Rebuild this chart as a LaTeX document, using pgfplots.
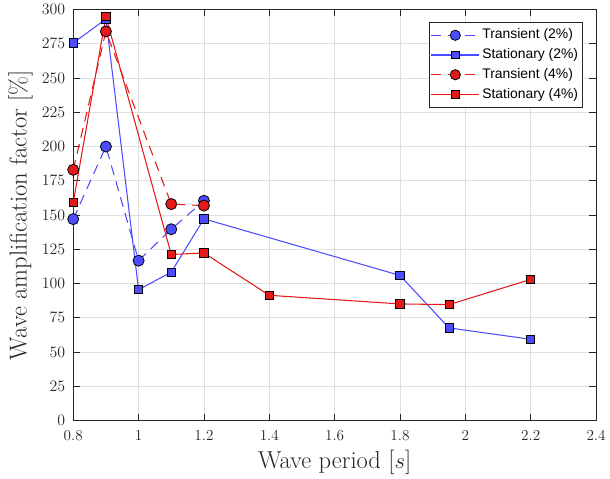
\documentclass[border=0pt]{standalone}
\usepackage{pgfplots}
\pgfplotsset{compat=1.18}
\usepackage{fontspec}
\newfontfamily\arial{Liberation Sans}
\definecolor{mblue}{rgb}{0.3,0.3,1}
\definecolor{mred}{rgb}{0.9,0.1,0.1}
\definecolor{axgray}{rgb}{0.15,0.15,0.15}
\begin{document}
\begin{tikzpicture}
\begin{axis}[
    name=ax,
    scale only axis,
    width=395pt, height=310.5pt,
    xmin=0.8, xmax=2.4, ymin=0, ymax=300,
    xtick={0.8,1,...,2.4},
    ytick={0,25,...,300},
    xticklabels={0.8,1,1.2,1.4,1.6,1.8,2,2.2,2.4},
    tick align=inside,
    major tick length=5pt,
    axis line style={axgray, line width=0.6pt},
    tick style={axgray, line width=0.5pt},
    grid=major,
    grid style={gray!25, line width=0.5pt},
    ticklabel style={font=\fontsize{11.5}{13}\selectfont, text=axgray},
    xticklabel style={yshift=-4pt},
    yticklabel style={xshift=-2.5pt},
    label style={font=\fontsize{18.5}{21}\selectfont, text=axgray},
    xlabel={Wave period [$s$]},
    ylabel={Wave amplification factor [\%]},
    legend style={at={(0.975,0.97)}, anchor=north east, draw=axgray,
        font=\arial\fontsize{10.5}{12.5}\selectfont, inner xsep=1.5pt, inner ysep=2.5pt,
        row sep=0pt, cells={anchor=west},
        nodes={inner xsep=2pt, inner ysep=2.2pt, text height=8pt, text depth=2.5pt}},
    legend image code/.code={\draw[mark repeat=2,mark phase=2,every mark/.append style={scale=0.92}] plot coordinates {(0pt,0pt)(18pt,0pt)(36pt,0pt)};},
]
\addplot[mblue, line width=0.8pt, dash pattern=on 7.5pt off 5pt,
    mark=*, mark size=4.2pt, mark options={solid, fill=mblue, draw=black, line width=0.6pt}]
    coordinates {(0.8,147) (0.9,200) (1.0,116.7) (1.1,139.6) (1.2,160.4)};
\addlegendentry{Transient (2\%)}
\addplot[mblue, line width=0.8pt,
    mark=square*, mark size=3.1pt, mark options={solid, fill=mblue, draw=black, line width=0.6pt}]
    coordinates {(0.8,275.6) (0.9,293) (1.0,95.5) (1.1,108.3) (1.2,147.2) (1.8,105.9) (1.95,67.6) (2.2,59.3)};
\addlegendentry{Stationary (2\%)}
\addplot[mred, line width=0.8pt, dash pattern=on 7.5pt off 5pt,
    mark=*, mark size=4.2pt, mark options={solid, fill=mred, draw=black, line width=0.6pt}]
    coordinates {(0.8,183) (0.9,284) (1.1,158) (1.2,156.9)};
\addlegendentry{Transient (4\%)}
\addplot[mred, line width=0.8pt,
    mark=square*, mark size=3.1pt, mark options={solid, fill=mred, draw=black, line width=0.6pt}]
    coordinates {(0.8,159) (0.9,295) (1.1,121.2) (1.2,122.3) (1.4,91.4) (1.8,85.1) (1.95,84.6) (2.2,103)};
\addlegendentry{Stationary (4\%)}
\end{axis}
\path ([xshift=-3pt]ax.outer west);
\end{tikzpicture}
\end{document}
